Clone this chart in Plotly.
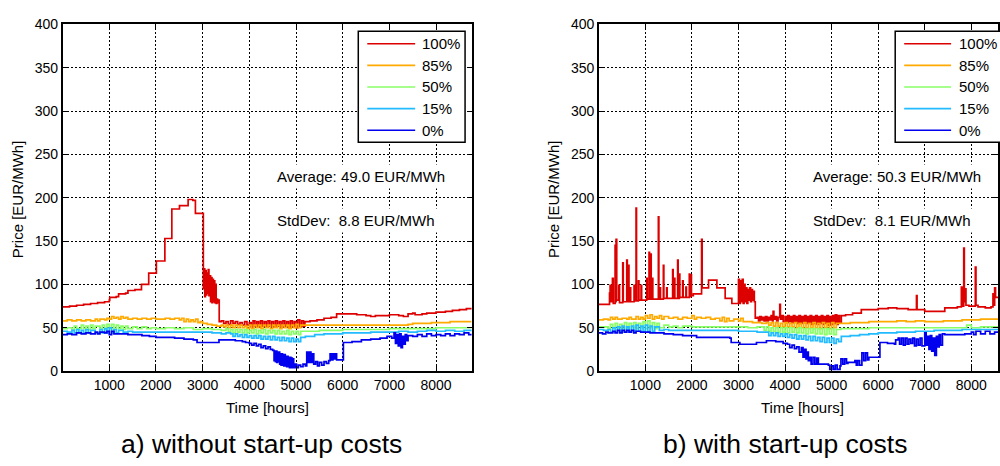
import plotly.graph_objects as go

# ---------------- DATA ----------------
SERIES = ["100%", "85%", "50%", "15%", "0%"]
COLORS = ["#dd0000", "#ffaa00", "#88ff66", "#22bbff", "#0000ee"]
X_TICKS = [1000, 2000, 3000, 4000, 5000, 6000, 7000, 8000]
Y_TICKS = [0, 50, 100, 150, 200, 250, 300, 350, 400]

# (a) without start-up costs : [hour, price]
A_100 = [(0,74),(150,75),(300,76),(450,77),(600,78),(750,79),(900,80),(1000,82),(1010,85),(1150,86),
         (1200,89),(1350,90),(1400,93),(1550,94),(1690,100),(1845,113),(2009,127),(2191,153),(2340,187),
         (2504,191),(2689,198),(2790,197),(2845,182),(3015,95),(3030,118),(3045,86),(3060,116),(3075,88),
         (3090,113),(3105,90),(3120,117),(3135,87),(3150,110),(3170,80),(3185,108),(3200,79),(3215,106),
         (3230,80),(3245,104),(3260,79),(3275,100),(3290,78),(3305,83),(3320,79),(3340,82),(3355,57),
         (3400,58),(3450,55),(3500,57),(3550,54),(3600,58),(3650,55),(3700,57),(3750,54),(3800,56),
         (3850,53),(3900,57),(3950,53),(4000,56),(4040,51),(4080,58),(4120,52),(4160,57),(4200,51),
         (4240,58),(4280,52),(4320,57),(4360,51),(4400,58),(4440,52),(4480,57),(4520,51),(4560,58),
         (4600,52),(4640,57),(4680,51),(4720,58),(4760,52),(4800,57),(4840,50),(4880,58),(4920,51),
         (4960,57),(5000,50),(5040,59),(5080,51),(5120,58),(5160,52),(5190,57),(5300,58),(5450,59),
         (5600,61),(5750,62),(5870,66),(6000,66),(6300,65),(6500,64),(6600,63),(6700,64),(6900,64),
         (7000,65),(7200,64),(7300,63),(7400,66),(7500,67),(7550,65),(7700,66),(7800,67),(8000,68),
         (8200,69),(8350,70),(8500,71),(8650,72),(8760,73)]
A_85 = [(0,58),(100,59),(200,58),(300,59),(400,58),(500,59),(600,58),(700,60),(750,58),(800,60),
        (900,59),(950,61),(1000,60),(1050,63),(1100,61),(1150,62),(1200,60),(1250,63),(1300,61),
        (1350,62),(1400,60),(1500,61),(1600,60),(1700,61),(1800,60),(1900,61),(2000,60),(2100,60),
        (2200,61),(2300,60),(2400,61),(2500,59),(2550,61),(2600,57),(2650,60),(2700,57),(2750,59),
        (2800,57),(2850,60),(2900,56),(2950,57),(3000,55),(3100,54),(3200,53),(3300,52),(3400,53),
        (3450,51),(3500,53),(3550,50),(3600,53),(3650,50),(3700,53),(3750,50),(3800,53),(3850,50),
        (3900,52),(3950,49),(4000,53),(4050,49),(4100,53),(4150,50),(4200,53),(4250,49),(4300,53),
        (4350,50),(4400,53),(4450,49),(4500,53),(4550,50),(4600,53),(4650,49),(4700,53),(4750,50),
        (4800,53),(4850,49),(4900,53),(4950,50),(5000,54),(5050,50),(5100,53),
        (5200,53),(5600,53),(6000,53),(6600,53),(7000,53),(7400,54),(7500,55),(7700,55),(7900,56),
        (8100,56),(8300,57),(8500,57),(8760,57)]
A_50 = [(0,49),(100,50),(200,48),(250,52),(300,49),(400,53),(450,49),(500,52),(550,48),(600,53),
        (650,49),(700,52),(800,49),(850,53),(900,48),(950,54),(1000,49),(1050,54),(1100,48),(1150,53),
        (1200,49),(1250,52),(1300,48),(1350,52),(1400,49),(1500,51),(1600,49),(1700,51),(1800,49),
        (1900,50),(2000,49),(2200,50),(2400,49),(2600,50),(2800,48),(3000,49),(3200,48),(3400,47),
        (3500,49),(3550,45),(3600,48),(3650,44),(3700,48),(3750,45),(3800,48),(3850,44),(3900,48),
        (3950,44),(4000,47),(4050,44),(4100,48),(4150,43),(4200,47),(4250,44),(4300,48),(4350,43),
        (4400,47),(4450,44),(4500,47),(4550,43),(4600,47),(4650,43),(4700,46),(4750,43),(4800,47),
        (4850,42),(4900,46),(4950,43),(5000,46),(5050,42),(5100,46),(5200,46),
        (5500,47),(6000,48),(6500,48),(7000,49),(7500,49),(8000,50),(8500,50),(8760,50)]
A_15 = [(0,46),(100,45),(200,47),(250,44),(300,48),(350,44),(400,47),(450,44),(500,48),(550,44),
        (600,47),(700,44),(800,48),(850,44),(900,49),(950,44),(1000,50),(1050,44),(1100,48),(1150,44),
        (1200,47),(1300,45),(1400,46),(1500,45),(2000,45),(2500,45),(3000,45),(3200,44),(3400,43),
        (3500,44),(3600,43),(3650,40),(3700,43),(3750,40),(3800,42),(3850,39),(3900,42),(3950,39),
        (4000,41),(4050,38),(4100,41),(4150,38),(4200,41),(4250,37),(4300,40),(4350,37),(4400,40),
        (4450,36),(4500,40),(4550,36),(4600,39),(4650,35),(4700,39),(4750,35),(4800,38),(4850,34),
        (4900,38),(4950,34),(5000,37),(5050,34),(5100,39),
        (5200,40),(5400,42),(5600,43),(5800,43),(6000,44),(6200,44),(6400,44),(6600,45),(6800,45),
        (7000,45),(7200,46),(7400,45),(7600,46),(7800,47),(8000,46),(8200,47),(8400,46),(8600,47),
        (8760,46)]
A_0 = [(0,42),(100,43),(200,42),(300,44),(400,43),(500,44),(600,43),(700,45),(750,43),(800,45),
       (900,44),(950,46),(1000,42),(1050,46),(1100,43),(1200,43),(1400,42),(1600,42),(1700,41),
       (1860,40),(2000,39),(2200,39),(2400,38),(2600,37),(2800,36),(2880,33),(3000,33),(3200,33),
       (3350,36),(3500,36),(3700,35),(3850,34),(3920,33),(4000,32),(4050,30),(4100,32),(4150,29),
       (4200,31),(4250,27),(4300,29),(4350,26),(4400,28),(4450,25),(4500,24),(4530,12),(4545,23),
       (4560,11),(4575,23),(4590,10),(4605,22),(4620,11),(4635,22),(4650,8),(4665,20),(4680,7),
       (4695,20),(4710,7),(4725,19),(4740,6),(4755,19),(4770,6),(4785,17),(4800,5),(4815,17),(4830,5),
       (4845,16),(4860,4),(4875,16),(4890,4),(4905,15),(4920,4),(4935,14),(4950,4),(4980,8),(5010,4),
       (5050,7),(5100,5),(5150,8),(5200,6),(5230,22),
       (5260,10),(5290,22),(5320,10),(5350,20),(5380,8),(5420,11),(5460,6),(5500,10),(5550,7),
       (5600,11),(5650,9),(5700,12),(5730,20),(5760,13),(5790,20),(5820,14),(5850,20),(5870,13),
       (6015,33),(6200,34),(6400,36),(6600,37),(6800,38),(6950,40),(7050,38),(7100,44),(7130,32),
       (7160,42),(7190,29),(7220,43),(7250,27),(7280,40),(7310,31),(7340,42),(7370,35),(7400,41),
       (7500,40),(7600,42),(7700,40),(7800,43),(7900,41),(8000,42),(8100,41),(8200,43),(8300,41),
       (8400,43),(8500,42),(8600,44),(8700,42),(8760,43)]

# (b) with start-up costs : [hour, price]
B_100 = [(0,77),(200,77),(230,90),(243,99),(260,80),(293,107),(310,78),(350,145),(365,80),(371,152),
         (385,82),(430,99),(445,79),(514,125),(525,80),(600,128),(612,80),(636,122),(648,80),(671,96),
         (685,80),(757,99),(770,81),(800,188),(810,81),(850,104),(862,82),(907,99),(920,82),(1029,107),
         (1040,83),(1079,137),(1090,83),(1114,135),(1125,83),(1150,107),(1160,83),(1279,178),(1290,83),
         (1314,96),(1325,83),(1386,122),(1397,84),(1457,96),(1468,84),(1586,117),(1597,84),(1622,107),
         (1633,84),(1693,128),(1704,84),(1729,112),(1740,85),(1800,104),(1811,85),(1871,97),(1882,85),
         (1943,112),(1954,86),(1979,111),(1990,87),(2030,89),(2207,152),(2220,96),(2357,105),(2536,96),
         (2714,84),(2857,78),(3000,106),(3020,78),(3040,104),(3060,80),(3080,106),(3100,78),(3120,100),
         (3140,80),(3160,96),(3180,78),(3200,94),(3220,82),(3240,96),(3260,80),(3280,94),(3300,82),
         (3320,92),(3340,80),(3360,61),(3400,62),(3430,58),(3460,63),(3490,59),(3520,62),(3550,58),
         (3580,63),(3610,58),(3640,62),(3670,59),(3700,64),(3730,58),(3743,69),(3760,60),(3790,63),
         (3820,58),(3850,62),(3886,77),(3900,60),(3930,64),(3960,57),(4000,63),(4030,56),(4060,64),
         (4090,57),(4120,63),(4150,56),(4180,64),(4210,57),(4240,63),(4270,55),(4300,64),(4330,55),
         (4360,63),(4390,56),(4420,64),(4450,55),(4480,63),(4510,56),(4540,64),(4570,54),(4600,63),
         (4630,55),(4660,64),(4690,54),(4720,63),(4750,55),(4780,64),(4810,54),(4840,63),(4870,55),
         (4900,64),(4930,53),(4960,63),(4990,54),(5020,64),(5050,55),(5080,65),(5110,54),(5140,64),
         (5170,56),(5208,64),(5300,65),(5450,67),(5637,71),(5800,71),(6000,72),(6215,73),(6400,72),
         (6644,71),(6800,71),(6822,87),(6835,71),(7000,69),(7200,69),(7350,69),(7430,73),(7600,73),
         (7700,74),(7786,97),(7800,75),(7837,142),(7850,80),(7870,95),(7885,76),(7950,75),(8000,75),
         (8086,120),(8100,76),(8144,74),(8300,73),(8423,74),(8465,89),(8480,76),(8501,96),(8520,85),
         (8600,82)]
B_85 = [(0,59),(100,60),(200,59),(250,62),(300,60),(350,62),(400,60),(500,61),(600,60),(650,62),
        (700,60),(800,63),(850,60),(900,62),(950,60),(1000,64),(1050,61),(1100,65),(1150,60),(1200,63),
        (1250,61),(1300,64),(1350,60),(1400,63),(1500,61),(1600,62),(1700,60),(1800,62),(1900,61),
        (2000,64),(2050,60),(2100,62),(2200,61),(2300,62),(2400,60),(2500,61),(2600,58),(2650,62),
        (2700,57),(2750,61),(2800,58),(2900,60),(3000,58),(3050,61),(3100,57),(3200,57),(3300,56),
        (3400,56),(3500,55),(3600,56),(3650,53),(3700,56),(3750,52),(3800,56),(3850,52),(3900,55),
        (3950,51),(4000,56),(4050,51),(4100,55),(4150,51),(4200,56),(4250,50),(4300,55),(4350,50),
        (4400,56),(4450,50),(4500,55),(4550,50),(4600,56),(4650,50),(4700,55),(4750,49),(4800,56),
        (4850,50),(4900,55),(4950,49),(5000,56),(5050,50),(5100,55),
        (5200,55),(5400,56),(5600,56),(5800,57),(6000,57),(6200,57),(6400,58),(6600,57),
        (6800,58),(7000,57),(7200,57),(7400,58),(7600,58),(7800,59),(8000,59),(8200,60),(8400,60),
        (8600,60)]
B_50 = [(0,51),(100,51),(200,49),(250,54),(300,50),(350,55),(400,49),(450,54),(500,49),(550,56),
        (600,49),(650,55),(700,50),(750,56),(800,49),(850,55),(900,50),(950,57),(1000,49),(1050,58),
        (1100,50),(1150,56),(1200,49),(1250,55),(1300,50),(1400,53),(1500,51),(1600,52),(1700,50),
        (1800,52),(2000,51),(2200,51),(2400,51),(2600,51),(2800,51),(3000,51),(3200,50),(3400,51),
        (3500,51),(3550,47),(3600,51),(3650,46),(3700,50),(3750,46),(3800,50),(3850,45),(3900,50),
        (3950,45),(4000,50),(4050,44),(4100,50),(4150,45),(4200,49),(4250,44),(4300,50),(4350,44),
        (4400,49),(4450,43),(4500,49),(4550,44),(4600,49),(4650,43),(4700,49),(4750,43),(4800,49),
        (4850,42),(4900,49),(4950,43),(5000,49),(5050,42),(5100,48),
        (5200,49),(5400,49),(5600,49),(5800,50),(6000,50),(6500,50),(7000,50),(7500,50),(7800,50),
        (7900,53),(8000,50),(8200,51),(8600,51)]
B_15 = [(0,48),(100,47),(200,48),(250,45),(300,50),(350,45),(400,51),(450,45),(500,52),(550,45),
        (600,51),(650,45),(700,52),(750,46),(800,53),(850,46),(900,52),(950,46),(1000,53),(1050,46),
        (1100,52),(1150,46),(1200,51),(1300,47),(1400,48),(1500,47),(2000,47),(2500,47),(3000,46),
        (3400,45),(3600,45),(3650,41),(3700,44),(3750,41),(3800,44),(3850,40),(3900,43),(3950,40),
        (4000,43),(4050,39),(4100,42),(4150,38),(4200,42),(4250,37),(4300,41),(4350,37),(4400,41),
        (4450,36),(4500,40),(4550,35),(4600,40),(4650,35),(4700,39),(4750,34),(4800,39),(4850,33),
        (4900,38),(4950,33),(5000,38),(5050,32),(5100,37),(5150,34),(5208,40),
        (5400,41),(5600,42),(5800,43),(6000,44),(6200,44),(6400,45),(6600,45),
        (6800,46),(7000,46),(7200,47),(7400,47),(7600,47),(7800,48),(8000,48),(8200,48),(8400,48),
        (8600,48)]
B_0 = [(0,44),(80,43),(150,45),(200,44),(300,46),(350,44),(400,47),(450,44),(500,47),(550,45),
       (600,47),(650,45),(700,47),(750,44),(800,46),(900,45),(1029,45),(1100,44),(1200,44),(1400,43),
       (1600,42),(1800,41),(2100,39),(2400,39),(2600,39),(2814,38),(2843,33),(3029,31),(3200,31),
       (3386,33),(3600,35),(3800,34),(3958,32),(4050,31),(4100,27),(4150,30),(4200,26),(4250,28),
       (4300,22),(4350,27),(4386,16),(4420,25),(4450,14),(4480,22),(4500,12),(4530,16),(4560,8),
       (4600,16),(4640,8),(4680,15),(4715,8),(4800,8),(4930,7),(4960,2),(5000,6),(5040,2),(5080,7),
       (5120,2),(5180,6),(5200,14),(5240,8),(5280,14),(5320,9),(5350,10),(5500,12),(5530,7),(5560,12),
       (5600,7),(5650,21),(5690,12),(5730,21),(5770,13),(5800,16),(6037,33),(6200,32),(6350,31),
       (6375,36),(6430,38),(6460,31),(6500,38),(6540,30),(6580,38),(6620,31),(6660,37),(6700,32),
       (6740,38),(6780,29),(6820,37),(6860,30),(6900,38),(6940,29),(7000,44),(7030,30),(7060,40),
       (7090,25),(7120,41),(7150,23),(7180,38),(7215,18),(7250,40),(7280,28),(7310,42),(7340,30),
       (7380,43),(7430,42),(7600,42),(7800,42),(7860,43),(8000,45),(8050,42),(8100,46),(8200,43),
       (8300,46),(8400,43),(8500,45),(8600,44)]

PANEL_A = [A_100, A_85, A_50, A_15, A_0]
PANEL_B = [B_100, B_85, B_50, B_15, B_0]
STATS_A = ("Average: 49.0 EUR/MWh", "StdDev:\u00a0 8.8 EUR/MWh")
STATS_B = ("Average: 50.3 EUR/MWh", "StdDev:\u00a0 8.1 EUR/MWh")
CAPTIONS = ("a) without start-up costs", "b) with start-up costs")

# ---------------- FIGURE ----------------
W, H = 1000, 466
FONT = "Liberation Sans, Arial, sans-serif"


def px(x):
    return x / W


def py(y):
    return 1 - y / H


fig = go.Figure()

for panel, xa, ya in ((PANEL_A, "x", "y"), (PANEL_B, "x2", "y2")):
    for data, name, col in zip(panel, SERIES, COLORS):
        fig.add_trace(go.Scatter(
            x=[p[0] for p in data], y=[p[1] for p in data], mode="lines",
            line=dict(color=col, width=1.7, shape="hv"), name=name,
            showlegend=False, xaxis=xa, yaxis=ya, hoverinfo="skip"))

axis_common = dict(
    showline=True, linecolor="black", linewidth=1.5, mirror="ticks",
    ticks="inside", ticklen=5, tickcolor="black",
    showgrid=True, gridcolor="black", griddash="2px,2px", gridwidth=1,
    zeroline=False, tickfont=dict(family=FONT, size=14, color="black"),
)
ydom = [py(376), py(17)]
fig.update_layout(
    width=W, height=H, margin=dict(l=0, r=0, t=0, b=0),
    paper_bgcolor="white", plot_bgcolor="white",
    font=dict(family=FONT, color="black"),
    xaxis=dict(domain=[px(62.7), px(472.5)], range=[0, 8760], tickvals=X_TICKS, anchor="y", **axis_common),
    yaxis=dict(domain=ydom, range=[0, 400], tickvals=Y_TICKS, anchor="x", **axis_common),
    xaxis2=dict(domain=[px(600), 1.0], range=[0, 8573], tickvals=X_TICKS, anchor="y2", **axis_common),
    yaxis2=dict(domain=ydom, range=[0, 400], tickvals=Y_TICKS, anchor="x2", **axis_common),
)

shapes = []
annotations = []

# Legends (drawn manually, right one clipped by the page edge like the original)
for (bx0, bx1, lx0, lx1, tx) in ((359, 466, 368, 416, 421), (897, 1010, 906, 953, 959)):
    shapes.append(dict(type="rect", xref="paper", yref="paper", x0=px(bx0), x1=px(bx1),
                       y0=py(139), y1=py(24), fillcolor="white",
                       line=dict(color="black", width=1.5), layer="above"))
    for i, (name, col) in enumerate(zip(SERIES, COLORS)):
        yy = 37 + i * 22.4
        shapes.append(dict(type="line", xref="paper", yref="paper", x0=px(lx0), x1=px(lx1),
                           y0=py(yy), y1=py(yy), line=dict(color=col, width=1.7), layer="above"))
        annotations.append(dict(xref="paper", yref="paper", x=px(tx), y=py(yy), text=name,
                                showarrow=False, xanchor="left", yanchor="middle",
                                font=dict(family=FONT, size=15, color="black")))

# Statistic text boxes
for (stats, xa, ya, xl) in ((STATS_A, "x", "y", 4500), (STATS_B, "x2", "y2", 4515)):
    for txt, yv in zip(stats, (225, 174)):
        annotations.append(dict(xref=xa, yref=ya, x=xl, y=yv, text=txt, showarrow=False,
                                xanchor="left", yanchor="middle", bgcolor="white", borderpad=3,
                                font=dict(family=FONT, size=15, color="black")))

# Axis titles and captions
for cx, ylx, cap, capx in ((267.6, 17, CAPTIONS[0], 262), (804.4, 554, CAPTIONS[1], 787)):
    annotations.append(dict(xref="paper", yref="paper", x=px(cx), y=py(414), text="Time [hours]",
                            showarrow=False, xanchor="center", yanchor="middle",
                            font=dict(family=FONT, size=15, color="black")))
    annotations.append(dict(xref="paper", yref="paper", x=px(ylx), y=py(198), text="Price [EUR/MWh]",
                            showarrow=False, textangle=-90, xanchor="center", yanchor="middle",
                            font=dict(family=FONT, size=15, color="black")))
    annotations.append(dict(xref="paper", yref="paper", x=px(capx), y=py(452), text=cap,
                            showarrow=False, xanchor="center", yanchor="middle",
                            font=dict(family=FONT, size=26.5, color="black")))

fig.update_layout(shapes=shapes, annotations=annotations)
fig.write_html("out.html")
